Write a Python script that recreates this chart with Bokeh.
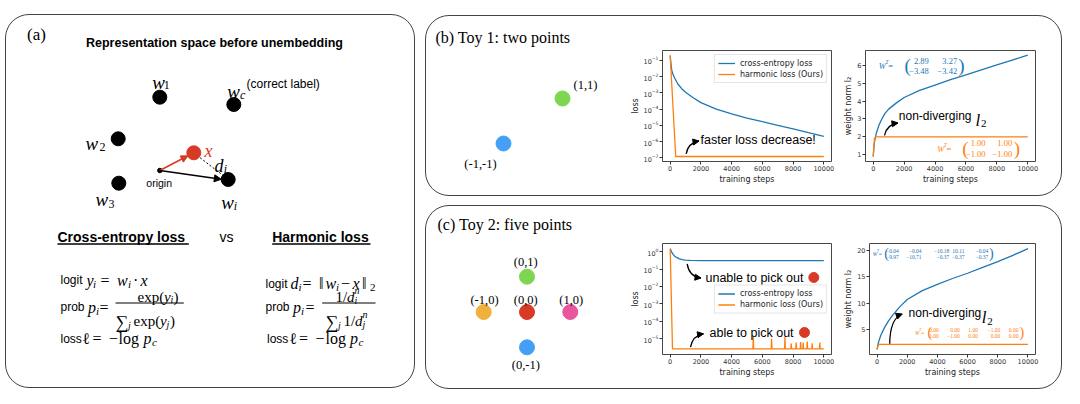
import math
from bokeh.plotting import figure
from bokeh.models import Range1d, FixedTicker, LogTickFormatter, Arrow, NormalHead, Label
from bokeh.layouts import row, column
from bokeh.embed import file_html
from bokeh.resources import INLINE

# ---------------- DATA ----------------
toy1_x = [1, -1]
toy1_y = [1, -1]
toy1_labels = ["(1,1)", "(-1,-1)"]
toy1_colors = ["#7dd650", "#45a0f5"]

toy2_x = [0, -1, 0, 1, 0]
toy2_y = [1, 0, 0, 0, -1]
toy2_labels = ["(0,1)", "(-1,0)", "(0,0)", "(1,0)", "(0,-1)"]
toy2_colors = ["#7dd650", "#f0b03c", "#d93a26", "#e8569e", "#45a0f5"]

# Toy 1: loss
t1_ce_steps = [0, 50, 100, 200, 300, 500, 750, 1000, 1500, 2000, 3000, 4000, 5000, 6000, 7000, 8000, 9000, 10000]
t1_ce_loss = [0.2, 0.063, 0.025, 0.0126, 0.0079, 0.0035, 0.0018, 0.0011, 5e-4, 2.5e-4, 1e-4, 5e-5, 2.8e-5,
              1.66e-5, 1e-5, 6e-6, 3.5e-6, 2.1e-6]
t1_h_steps = [0, 360, 10000]
t1_h_loss = [0.2, 1.2e-7, 1.2e-7]

# Toy 1: weight norm
t1_ce_nsteps = [0, 50, 100, 200, 350, 500, 750, 1000, 1500, 2000, 3000, 4000, 5000, 6000, 7000, 8000, 9000, 10000]
t1_ce_norm = [0.9, 1.5, 1.8, 2.2, 2.6, 2.9, 3.3, 3.55, 3.9, 4.2, 4.6, 4.9, 5.2, 5.47, 5.75, 6.03, 6.3, 6.57]
t1_h_nsteps = [0, 80, 150, 10000]
t1_h_norm = [0.9, 1.9, 2.0, 2.0]

# Toy 2: loss
t2_ce_steps = [0, 100, 200, 300, 450, 600, 800, 1000, 1300, 2000, 10000]
t2_ce_loss = [1.5, 0.95, 0.68, 0.55, 0.45, 0.39, 0.35, 0.33, 0.32, 0.31, 0.31]
t2_h_steps = [0, 150, 5385, 5410, 5435, 6575, 6600, 6625, 7445, 7470, 7495, 7855, 7880, 7905,
              8175, 8200, 8225, 8465, 8490, 8515, 8635, 8660, 8685, 8895, 8920, 8945,
              9215, 9240, 9265, 9715, 9740, 9765, 10000]
t2_h_loss = [1.5, 2.6e-6, 2.6e-6, 1.4e-5, 2.6e-6, 2.6e-6, 1.0e-5, 2.6e-6, 2.6e-6, 1.26e-5, 2.6e-6,
             2.6e-6, 5.2e-6, 2.6e-6, 2.6e-6, 6e-6, 2.6e-6, 2.6e-6, 6.5e-6, 2.6e-6, 2.6e-6, 6e-6, 2.6e-6,
             2.6e-6, 6.8e-6, 2.6e-6, 2.6e-6, 5.5e-6, 2.6e-6, 2.6e-6, 6e-6, 2.6e-6, 2.6e-6]

# Toy 2: weight norm
t2_ce_nsteps = [0, 50, 100, 250, 500, 750, 1000, 1500, 2000, 3000, 4000, 5000, 6000, 7000, 8000, 9000, 10000]
t2_ce_norm = [1.2, 2.0, 2.6, 3.9, 5.4, 6.6, 7.6, 9.3, 10.7, 12.4, 13.6, 14.7, 15.7, 16.8, 17.9, 19.1, 20.4]
t2_h_nsteps = [0, 80, 150, 10000]
t2_h_norm = [1.2, 2.0, 2.15, 2.15]

x_ticks = [0, 2000, 4000, 6000, 8000, 10000]
loss1_ticks = [1e-7, 1e-6, 1e-5, 1e-4, 1e-3, 1e-2, 1e-1]
loss2_ticks = [1e-5, 1e-4, 1e-3, 1e-2, 1e-1, 1e0]
norm1_ticks = [1, 2, 3, 4, 5, 6]
norm2_ticks = [5, 10, 15, 20]

W1_ce = [["2.89", "3.27"], ["\u22123.48", "\u22123.42"]]
W1_h = [["1.00", "1.00"], ["\u22121.00", "\u22121.00"]]
W2_ce = [["\u22120.04", "\u22120.04", "\u221210.18", "10.11", "\u22120.04"],
         ["\u22129.97", "\u221210.71", "\u22120.37", "\u22120.37", "\u22120.37"]]
W2_h = [["0.00", "0.00", "1.00", "\u22121.00", "0.00"],
        ["1.00", "\u22121.00", "0.00", "0.00", "0.00"]]

# schematic points of panel (a) (panel pixel units)
diag_w_x = [159.3, 233.3, 117.7, 118.3, 227.7]
diag_w_y = [96.7, 104.0, 138.3, 182.7, 179.0]
diag_origin = [159.3, 170.0]
diag_xpt = [193.3, 152.3]

# ---------------- STYLE ----------------
SERIF = "Liberation Serif"
SANS = "Liberation Sans"
MPL = "DejaVu Sans"
RED = "#d93a26"
BLUE = "#1f77b4"
ORANGE = "#ff7f0e"
BORDER = {"border": "1px solid #444444", "border-radius": "24px"}


class Map:
    def __init__(s, L, T, R, B, x0, x1, y0, y1, ylog=False):
        s.L, s.T, s.R, s.B = L, T, R, B
        s.x0, s.x1, s.y0, s.y1, s.ylog = x0, x1, y0, y1, ylog

    def x(s, px):
        return s.x0 + (px - s.L) / (s.R - s.L) * (s.x1 - s.x0)

    def y(s, py):
        f = (s.B - py) / (s.B - s.T)
        if s.ylog:
            a, b = math.log10(s.y0), math.log10(s.y1)
            return 10 ** (a + f * (b - a))
        return s.y0 + f * (s.y1 - s.y0)


def txt(p, m, px, py, s, size, font=SANS, style="normal", color="black", align="left", baseline="middle"):
    p.add_layout(Label(x=m.x(px), y=m.y(py), text=s, text_font=font, text_font_size=f"{size}px",
                       text_font_style=style, text_color=color, text_align=align, text_baseline=baseline))


def put(p, m, items, color="black"):
    for it in items:
        s, x, y, size, font, style = it
        txt(p, m, x, y, s, size, font, style, color, "left", "alphabetic")


def hline(p, m, x0, x1, y, w=1.2, color="black"):
    p.line([m.x(x0), m.x(x1)], [m.y(y), m.y(y)], line_color=color, line_width=w)


def curved_arrow(p, m, s, c, e, color="black"):
    p.quadratic(x0=[m.x(s[0])], y0=[m.y(s[1])], x1=[m.x(e[0])], y1=[m.y(e[1])],
                cx=[m.x(c[0])], cy=[m.y(c[1])], line_color=color, line_width=1.3)
    dx, dy = e[0] - c[0], e[1] - c[1]
    n = math.hypot(dx, dy)
    b = (e[0] - dx / n * 2.5, e[1] - dy / n * 2.5)
    p.add_layout(Arrow(end=NormalHead(size=6, fill_color=color, line_color=color, line_width=1),
                       x_start=m.x(b[0]), y_start=m.y(b[1]), x_end=m.x(e[0]), y_end=m.y(e[1]),
                       line_color=color, line_width=1.3))


def blank(L, T, R, B, x0, x1, y0, y1):
    p = figure(width=int(R - L), height=int(B - T), x_range=Range1d(x0, x1), y_range=Range1d(y0, y1),
               x_axis_location=None, y_axis_location=None, min_border=0,
               output_backend="svg", toolbar_location=None)
    p.outline_line_color = None
    p.background_fill_alpha = 0
    p.border_fill_alpha = 0
    p.grid.visible = False
    return p, Map(L, T, R, B, x0, x1, y0, y1)


def chart(L, T, R, B, fL, fT, fR, fB, yr, ylog, yticks, ylabel):
    p = figure(width=int(R - L), height=int(B - T), x_range=Range1d(-500, 10500), y_range=Range1d(*yr),
               y_axis_type="log" if ylog else "linear", output_backend="svg", toolbar_location=None,
               min_border_left=int(fL - L), min_border_right=int(R - fR),
               min_border_top=int(fT - T), min_border_bottom=int(B - fB))
    p.background_fill_alpha = 0
    p.border_fill_alpha = 0
    p.outline_line_color = "#333333"
    p.outline_line_width = 0.9
    p.grid.visible = False
    p.xaxis.ticker = FixedTicker(ticks=x_ticks)
    p.yaxis.ticker = FixedTicker(ticks=yticks)
    if ylog:
        p.yaxis.formatter = LogTickFormatter()
    p.xaxis.axis_label = "training steps"
    p.yaxis.axis_label = ylabel
    for ax in p.axis:
        ax.axis_line_color = None
        ax.major_tick_in = 0
        ax.major_tick_out = 3
        ax.minor_tick_in = 0
        ax.minor_tick_out = 0
        ax.major_tick_line_color = "#333333"
        ax.major_label_text_font = MPL
        ax.major_label_text_font_size = "6.5px"
        ax.major_label_text_color = "#333333"
        ax.major_label_standoff = 1
        ax.axis_label_text_font = MPL
        ax.axis_label_text_font_size = "8px"
        ax.axis_label_text_font_style = "normal"
        ax.axis_label_text_color = "#222222"
        ax.axis_label_standoff = 1
    m = Map(fL, fT, fR, fB, -500, 10500, yr[0], yr[1], ylog)
    return p, m


def style_legend(p, loc):
    lg = p.legend[0]
    lg.location = loc
    lg.label_text_font = MPL
    lg.label_text_font_size = "8px"
    lg.label_text_color = "#222222"
    lg.glyph_width = 17
    lg.glyph_height = 10
    lg.label_height = 10
    lg.label_standoff = 5
    lg.padding = 3
    lg.spacing = 1
    lg.margin = 4
    lg.border_line_color = "#cccccc"
    lg.background_fill_alpha = 0.85


def matrix(p, m, color, wx, wy, wsize, p0, p1, psize, rows_y, col_r, entries, esize):
    txt(p, m, wx, wy, "W", wsize, SERIF, "italic", color)
    txt(p, m, wx + wsize * 0.78, wy - wsize * 0.45, "T", wsize * 0.65, SERIF, "italic", color)
    txt(p, m, wx + wsize * 1.1, wy, "=", wsize, SERIF, "normal", color)
    txt(p, m, p0, wy, "(", psize, SERIF, "normal", color)
    txt(p, m, p1, wy, ")", psize, SERIF, "normal", color)
    for r, ry in enumerate(rows_y):
        for c, cr in enumerate(col_r):
            txt(p, m, cr, ry, entries[r][c], esize, SERIF, "normal", color, "right")


# ---------------- PANEL (a) ----------------
pa, A = blank(6, 15, 414, 387, 6, 414, 387, 15)
txt(pa, A, 26.5, 34, "(a)", 17, SERIF)
txt(pa, A, 214, 42, "Representation space before unembedding", 12.5, SANS, "bold", align="center")
pa.line([A.x(diag_xpt[0]), A.x(diag_w_x[4])], [A.y(diag_xpt[1]), A.y(diag_w_y[4])],
        line_dash="2 2", line_color="black", line_width=1)
pa.add_layout(Arrow(end=NormalHead(size=7, fill_color=RED, line_color=RED), x_start=diag_origin[0],
                    y_start=diag_origin[1], x_end=187.5, y_end=155.3, line_color=RED, line_width=1.6))
pa.add_layout(Arrow(end=NormalHead(size=7, fill_color="black", line_color="black"), x_start=diag_origin[0],
                    y_start=diag_origin[1], x_end=220.8, y_end=178.8, line_color="black", line_width=1.6))
pa.scatter(diag_w_x, diag_w_y, size=14, color="black")
pa.scatter([diag_origin[0]], [diag_origin[1]], size=4.5, color="black")
pa.scatter([diag_xpt[0]], [diag_xpt[1]], size=14, color=RED)
put(pa, A, [
    ("w", 151.7, 81.5, 19, SERIF, "italic"), ("1", 163.3, 84.5, 12, SERIF, "normal"),
    ("w", 226.7, 90.5, 19, SERIF, "italic"), ("c", 239.5, 94, 12, SERIF, "italic"),
    ("w", 85, 143, 19, SERIF, "italic"), ("2", 99, 146.5, 12, SERIF, "normal"),
    ("w", 95, 199.3, 19, SERIF, "italic"), ("3", 108, 203, 12, SERIF, "normal"),
    ("w", 220.7, 201.5, 19, SERIF, "italic"), ("i", 233.3, 205, 12, SERIF, "italic"),
    ("d", 214, 165, 18, SERIF, "italic"), ("i", 223.3, 168.5, 12, SERIF, "italic"),
])
put(pa, A, [("x", 204, 150, 18, SERIF, "italic")], color=RED)
txt(pa, A, 246, 83.3, "(correct label)", 12, SANS)
txt(pa, A, 158.7, 182.5, "origin", 10.5, SANS, align="center")

txt(pa, A, 57, 236.7, "Cross-entropy loss", 14, SANS, "bold")
txt(pa, A, 226, 236.7, "vs", 14, SANS, align="center")
txt(pa, A, 271.7, 236.7, "Harmonic loss", 14, SANS, "bold")
hline(pa, A, 57, 188.3, 243.5, 1.3)
hline(pa, A, 271.7, 370, 243.5, 1.3)

L1, L2, L3 = 279.5, 306.5, 338
NUM, DEN = 296, 320.5
put(pa, A, [
    ("logit", 60, L1, 12, SANS, "normal"), ("y", 86, L1, 16, SERIF, "italic"),
    ("i", 92.5, L1 + 3.5, 11, SERIF, "italic"), ("=", 100, L1, 16, SERIF, "normal"),
    ("w", 116.5, L1, 16, SERIF, "italic"), ("i", 127.5, L1 + 3.5, 11, SERIF, "italic"),
    ("\u00b7", 132.5, L1, 16, SERIF, "normal"), ("x", 140, L1, 16, SERIF, "italic"),
    ("prob", 60, L2, 12, SANS, "normal"), ("p", 87.5, L2, 16, SERIF, "italic"),
    ("i", 95.5, L2 + 3.5, 11, SERIF, "italic"), ("=", 99, L2, 16, SERIF, "normal"),
    ("exp(", 137, NUM, 15, SERIF, "normal"), ("y", 163.5, NUM, 15, SERIF, "italic"),
    ("i", 170, NUM + 3, 10, SERIF, "italic"), (")", 173, NUM, 15, SERIF, "normal"),
    ("\u2211", 115, DEN + 1, 18, SERIF, "normal"), ("j", 127.5, DEN + 4, 10, SERIF, "italic"),
    ("exp(", 133, DEN, 15, SERIF, "normal"), ("y", 159.5, DEN, 15, SERIF, "italic"),
    ("j", 166, DEN + 3, 10, SERIF, "italic"), (")", 169.5, DEN, 15, SERIF, "normal"),
    ("loss", 60, L3, 12, SANS, "normal"), ("\u2113", 81.5, L3, 16, SERIF, "normal"),
    ("=", 92, L3, 16, SERIF, "normal"), ("\u2212", 108.5, L3, 16, SERIF, "normal"),
    ("log", 118, L3, 16, SERIF, "normal"), ("p", 143, L3, 16, SERIF, "italic"),
    ("c", 151.5, L3 + 3.5, 11, SERIF, "italic"),
])
hline(pa, A, 115, 183.3, 302.5, 1.0)

R1, R2, R3 = 283, 306.5, 338
put(pa, A, [
    ("logit", 265, R1, 12, SANS, "normal"), ("d", 290, R1, 16, SERIF, "italic"),
    ("i", 298, R1 + 3.5, 11, SERIF, "italic"), ("=", 302, R1, 16, SERIF, "normal"),
    ("\u2016", 318.5, R1, 16, SERIF, "normal"), ("w", 325, R1, 16, SERIF, "italic"),
    ("i", 335.5, R1 + 3.5, 11, SERIF, "italic"), ("\u2212", 340.5, R1, 16, SERIF, "normal"),
    ("x", 352, R1, 16, SERIF, "italic"), ("\u2016", 361.5, R1, 16, SERIF, "normal"),
    ("2", 369.5, R1 + 4, 11, SERIF, "normal"),
    ("prob", 265, R2, 12, SANS, "normal"), ("p", 292.5, R2, 16, SERIF, "italic"),
    ("i", 300.5, R2 + 3.5, 11, SERIF, "italic"), ("=", 305, R2, 16, SERIF, "normal"),
    ("1/", 335, NUM, 15, SERIF, "normal"), ("d", 346.5, NUM, 15, SERIF, "italic"),
    ("i", 354, NUM + 3.5, 10, SERIF, "italic"), ("n", 354, NUM - 6.5, 10, SERIF, "italic"),
    ("\u2211", 325, DEN + 1, 18, SERIF, "normal"), ("j", 337.5, DEN + 4, 10, SERIF, "italic"),
    ("1/", 343, DEN, 15, SERIF, "normal"), ("d", 354.5, DEN, 15, SERIF, "italic"),
    ("j", 362, DEN + 3.5, 10, SERIF, "italic"), ("n", 362, DEN - 6.5, 10, SERIF, "italic"),
    ("loss", 266.5, R3, 12, SANS, "normal"), ("\u2113", 288.5, R3, 16, SERIF, "normal"),
    ("=", 298.5, R3, 16, SERIF, "normal"), ("\u2212", 315, R3, 16, SERIF, "normal"),
    ("log", 325, R3, 16, SERIF, "normal"), ("p", 349.5, R3, 16, SERIF, "italic"),
    ("c", 358, R3 + 3.5, 11, SERIF, "italic"),
])
hline(pa, A, 321.7, 375, 302.5, 1.0)

# ---------------- PANEL (b) ----------------
ux, uy, cxp, cyp = 29.5, 22.5, 532.5, 120.5
sb, SB = blank(426, 16, 624, 195, (426 - cxp) / ux, (624 - cxp) / ux, -(195 - cyp) / uy, (cyp - 16) / uy)
sb.scatter(toy1_x, toy1_y, size=15, color=toy1_colors)
txt(sb, SB, 435, 37, "(b) Toy 1: two points", 16, SERIF)
txt(sb, SB, 585, 84, toy1_labels[0], 12.5, SERIF, align="center")
txt(sb, SB, 480, 163, toy1_labels[1], 12.5, SERIF, align="center")

c1, M1 = chart(624, 16, 841, 195, 662, 50, 831, 161, (10 ** -7.23, 10 ** -0.39), True, loss1_ticks, "loss")
c1.line(t1_ce_steps, t1_ce_loss, line_color=BLUE, line_width=1.3, legend_label="cross-entropy loss")
c1.line(t1_h_steps, t1_h_loss, line_color=ORANGE, line_width=1.3, legend_label="harmonic loss (Ours)")
style_legend(c1, "top_right")
txt(c1, M1, 700, 139.5, "faster loss decrease!", 12.5, SANS)
curved_arrow(c1, M1, (685.7, 153.3), (687.5, 142.5), (698.5, 140.5))

c2, M2 = chart(841, 16, 1061, 195, 865, 50, 1035, 161, (0.6175, 6.8325), False, norm1_ticks, "weight norm l\u2082")
c2.line(t1_ce_nsteps, t1_ce_norm, line_color=BLUE, line_width=1.3)
c2.line(t1_h_nsteps, t1_h_norm, line_color=ORANGE, line_width=1.3)
txt(c2, M2, 898.3, 115, "non-diverging", 12, SANS)
txt(c2, M2, 975, 119.5, "l", 17, SERIF, "italic", baseline="alphabetic")
txt(c2, M2, 980.5, 123, "2", 11, SERIF, baseline="alphabetic")
curved_arrow(c2, M2, (884, 135), (886, 124), (897.5, 122.5))
matrix(c2, M2, BLUE, 878.3, 65, 8.5, 904, 957.7, 19, [60.7, 70], [928.3, 956.7], W1_ce, 8.5)
matrix(c2, M2, ORANGE, 936.7, 148, 8.5, 961.7, 1013.3, 19, [142.7, 153.3], [985, 1011.7], W1_h, 8.5)

# ---------------- PANEL (c) ----------------
ux, uy, cxp, cyp = 43.3, 35.3, 526.5, 311.5
sc, SC = blank(426, 206, 624, 388, (426 - cxp) / ux, (624 - cxp) / ux, -(388 - cyp) / uy, (cyp - 206) / uy)
sc.scatter(toy2_x, toy2_y, size=15, color=toy2_colors)
txt(sc, SC, 437, 224, "(c) Toy 2: five points", 16, SERIF)
for lab, lx, ly in zip(toy2_labels, [525.3, 484, 525.3, 570.7, 525.3], [261, 299, 299, 299, 364]):
    txt(sc, SC, lx, ly, lab, 12.5, SERIF, align="center")

c3, M3 = chart(624, 206, 841, 388, 662, 243, 831, 354, (10 ** -5.91, 10 ** 0.47), True, loss2_ticks, "loss")
c3.line(t2_ce_steps, t2_ce_loss, line_color=BLUE, line_width=1.3, legend_label="cross-entropy loss")
c3.line(t2_h_steps, t2_h_loss, line_color=ORANGE, line_width=1.3, legend_label="harmonic loss (Ours)")
style_legend(c3, "center_right")
txt(c3, M3, 705, 277.3, "unable to pick out", 12.5, SANS)
c3.scatter([M3.x(813.3)], [M3.y(277)], size=10, color=RED)
curved_arrow(c3, M3, (686.7, 263.3), (688.5, 276), (700.5, 277.5))
txt(c3, M3, 709, 332.3, "able to pick out", 12.5, SANS)
c3.scatter([M3.x(804)], [M3.y(332)], size=10, color=RED)
curved_arrow(c3, M3, (690, 346.7), (692, 335), (703, 333.3))

c4, M4 = chart(841, 206, 1061, 388, 865, 243, 1035, 354, (0.24, 21.36), False, norm2_ticks, "weight norm l\u2082")
c4.line(t2_ce_nsteps, t2_ce_norm, line_color=BLUE, line_width=1.3)
c4.line(t2_h_nsteps, t2_h_norm, line_color=ORANGE, line_width=1.3)
txt(c4, M4, 905, 312.3, "non-diverging", 12, SANS)
txt(c4, M4, 980, 317, "l", 17, SERIF, "italic", baseline="alphabetic")
txt(c4, M4, 985.5, 320.5, "2", 11, SERIF, baseline="alphabetic")
curved_arrow(c4, M4, (885.7, 343.3), (886, 318), (898.5, 313.5))
matrix(c4, M4, BLUE, 868.3, 253.3, 5.5, 880, 987.5, 14, [250, 256.7],
       [895, 918.3, 946.7, 962.3, 986.7], W2_ce, 5.5)
matrix(c4, M4, ORANGE, 911.7, 332.3, 5.5, 924.5, 1018.5, 14, [329, 335.7],
       [936, 957.5, 976, 999, 1017.5], W2_h, 5.5)

# ---------------- LAYOUT ----------------
colA = column(pa, styles=BORDER, margin=(14, 0, 0, 5))
rowB = row(column(sb), c1, c2, styles=BORDER, margin=(15, 0, 0, 0))
rowC = row(column(sc), c3, c4, styles=BORDER, margin=(9, 0, 0, 0))
right = column(rowB, rowC, margin=(0, 0, 0, 10))
root = row(colA, right)

open("out.html", "w").write(file_html(root, INLINE, title="Harmonic loss toy examples"))
